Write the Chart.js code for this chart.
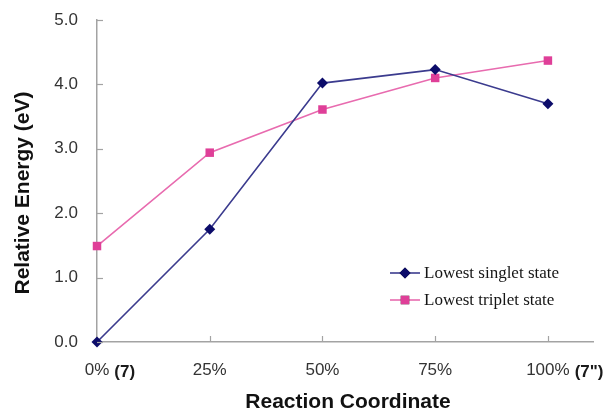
<!DOCTYPE html>
<html>
<head>
<meta charset="utf-8">
<script src="https://cdn.jsdelivr.net/npm/chart.js@4.4.1/dist/chart.umd.min.js"></script>
<style>
  html, body { margin: 0; padding: 0; background: #ffffff; }
  #wrap { width: 611px; height: 411px; position: relative; }
</style>
</head>
<body>
<div id="wrap"><canvas id="c" width="611" height="411"></canvas></div>
<script>
// ---- data ----
const categories = ['0%', '25%', '50%', '75%', '100%'];
const coordinateValues = [0, 25, 50, 75, 100];
const singletValues = [0.00, 1.75, 4.02, 4.23, 3.70];
const tripletValues = [1.49, 2.94, 3.61, 4.10, 4.37];
const seriesNames = ['Lowest singlet state', 'Lowest triplet state'];
const yTickValues = [0, 1, 2, 3, 4, 5];
const xAnnotations = { 0: '(7)', 100: '(7")' };
const xTitle = 'Reaction Coordinate';
const yTitle = 'Relative Energy (eV)';

const toPoints = vals => vals.map((v, i) => ({ x: coordinateValues[i], y: v }));

const AXIS_COLOR = '#A3A3A3';
const TICK_FONT = '17px "Liberation Sans", Arial, sans-serif';

const decorPlugin = {
  id: 'decor',
  afterDraw(chart) {
    const ctx = chart.ctx;
    const xs = chart.scales.x, ys = chart.scales.y;
    const area = chart.chartArea;
    ctx.save();
    // inside tick marks
    ctx.strokeStyle = AXIS_COLOR;
    ctx.lineWidth = 1.2;
    yTickValues.forEach(v => {
      const py = Math.round(ys.getPixelForValue(v)) + 0.5;
      ctx.beginPath(); ctx.moveTo(area.left, py); ctx.lineTo(area.left + 6, py); ctx.stroke();
    });
    coordinateValues.forEach(v => {
      if (v === 0) return;
      const px = Math.round(xs.getPixelForValue(v)) + 0.5;
      ctx.beginPath(); ctx.moveTo(px, area.bottom); ctx.lineTo(px, area.bottom - 6); ctx.stroke();
    });
    // bold annotations after tick labels
    const baseY = area.bottom + 35;
    Object.keys(xAnnotations).forEach(k => {
      const v = Number(k);
      const idx = coordinateValues.indexOf(v);
      ctx.font = TICK_FONT;
      const half = ctx.measureText(categories[idx]).width / 2;
      const px = xs.getPixelForValue(v) + half + 5;
      ctx.font = 'bold 17px "Liberation Sans", Arial, sans-serif';
      ctx.fillStyle = '#1a1a1a';
      ctx.textAlign = 'left';
      ctx.textBaseline = 'alphabetic';
      ctx.fillText(xAnnotations[k], px, baseY);
    });
    // axis titles
    ctx.fillStyle = '#111111';
    ctx.font = 'bold 21px "Liberation Sans", Arial, sans-serif';
    ctx.textAlign = 'center';
    ctx.textBaseline = 'alphabetic';
    ctx.fillText(xTitle, 348, 408);
    ctx.save();
    ctx.translate(29, 193);
    ctx.rotate(-Math.PI / 2);
    ctx.fillText(yTitle, 0, 0);
    ctx.restore();
    // legend
    const legX = 390, legW = 30, textX = 424;
    const rows = [273, 300];
    chart.data.datasets.forEach((ds, i) => {
      const y = rows[i];
      ctx.strokeStyle = ds.borderColor;
      ctx.lineWidth = ds.borderWidth;
      ctx.beginPath(); ctx.moveTo(legX, y); ctx.lineTo(legX + legW, y); ctx.stroke();
      Chart.helpers.drawPoint(ctx, {
        pointStyle: ds.pointStyle, radius: ds.pointRadius, borderWidth: 0, rotation: 0
      }, legX + legW / 2, y);
      ctx.fillStyle = ds.pointBackgroundColor;
      ctx.fill();
      ctx.fillStyle = '#151515';
      ctx.font = '17px "Liberation Serif", "Times New Roman", serif';
      ctx.textAlign = 'left';
      ctx.textBaseline = 'middle';
      ctx.fillText(seriesNames[i], textX, y + 1);
    });
    ctx.restore();
  }
};

new Chart(document.getElementById('c'), {
  type: 'line',
  data: {
    datasets: [
      {
        label: seriesNames[0],
        data: toPoints(singletValues),
        borderColor: '#3B3B8E',
        borderWidth: 1.6,
        pointStyle: 'rectRot',
        pointRadius: 5.5,
        pointBackgroundColor: '#0C0C6A',
        pointBorderColor: '#0C0C6A',
        pointBorderWidth: 0,
        tension: 0,
        clip: false
      },
      {
        label: seriesNames[1],
        data: toPoints(tripletValues),
        borderColor: '#E86BAF',
        borderWidth: 1.6,
        pointStyle: 'rect',
        pointRadius: 6,
        pointBackgroundColor: '#DF3F98',
        pointBorderColor: '#DF3F98',
        pointBorderWidth: 0,
        tension: 0,
        clip: false
      }
    ]
  },
  options: {
    responsive: false,
    animation: false,
    devicePixelRatio: 1,
    layout: { padding: { top: 20, right: 18, bottom: 0, left: 0 } },
    plugins: { legend: { display: false }, tooltip: { enabled: false } },
    scales: {
      x: {
        type: 'linear',
        min: 0,
        max: 110,
        afterBuildTicks: s => { s.ticks = s.ticks.filter(t => coordinateValues.includes(t.value)); },
        afterFit: s => { s.height = 69; },
        ticks: {
          stepSize: 25,
          maxRotation: 0,
          autoSkip: false,
          padding: 18,
          color: '#333333',
          font: { family: '"Liberation Sans", Arial, sans-serif', size: 17 },
          callback: v => { const i = coordinateValues.indexOf(v); return i >= 0 ? categories[i] : ''; }
        },
        grid: { display: false, drawTicks: false },
        border: { display: true, color: AXIS_COLOR, width: 1.5 }
      },
      y: {
        min: 0,
        max: 5,
        afterFit: s => { s.width = 97; },
        ticks: {
          stepSize: 1,
          padding: 0,
          color: '#333333',
          font: { family: '"Liberation Sans", Arial, sans-serif', size: 17 },
          callback: v => v.toFixed(1)
        },
        grid: { display: false, drawTicks: true, tickLength: 19 },
        border: { display: true, color: AXIS_COLOR, width: 1.5 }
      }
    }
  },
  plugins: [decorPlugin]
});
</script>
</body>
</html>
